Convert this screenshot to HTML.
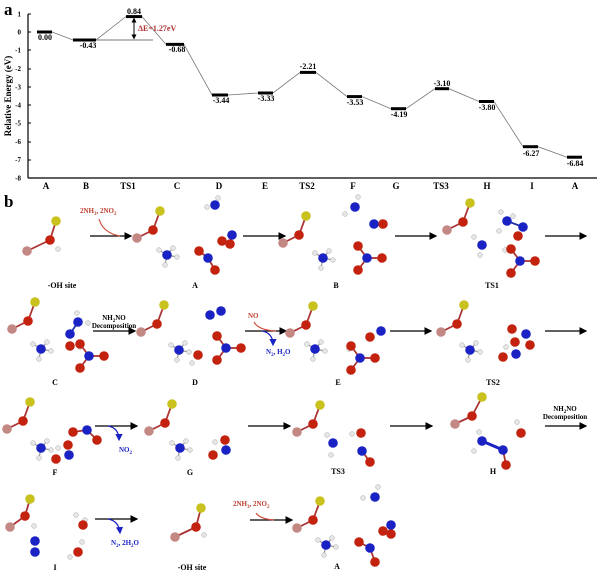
<!DOCTYPE html>
<html><head><meta charset="utf-8"><style>
html,body{margin:0;padding:0;background:#fff}
svg{display:block}
text{font-family:"Liberation Serif",serif;font-weight:bold}
.y{fill:#c9c21e}.o{fill:#c2220e}.p{fill:#c48884}.n{fill:#1a22c4}.h{fill:#e6e6e6;stroke:#aaa;stroke-width:.5}
circle.y,circle.o,circle.p,circle.n{r:4.8px}
circle.h{r:2.4px}
.b{stroke:#a33;stroke-width:1.8}
.bn{stroke:#2233aa;stroke-width:1.8}
.bw{stroke:#999;stroke-width:1.2}
.lv{stroke:#000;stroke-width:3}
.ln{stroke:#777;stroke-width:.8;fill:none}
.v{font-size:9px;text-anchor:middle}
.ax{font-size:9px;text-anchor:middle}
.lab{font-size:8px;text-anchor:middle}
</style></head><body>
<svg width="600" height="578" viewBox="0 0 600 578" xmlns="http://www.w3.org/2000/svg">
<defs>
<marker id="ah" markerWidth="6" markerHeight="6" refX="5" refY="3" orient="auto"><path d="M0,0 L6,3 L0,6 z" fill="#000"/></marker>
<marker id="ab" markerWidth="6" markerHeight="6" refX="5" refY="3" orient="auto"><path d="M0,0 L6,3 L0,6 z" fill="#1a22c4"/></marker>
<marker id="ak" markerWidth="5" markerHeight="5" refX="2.5" refY="2.5" orient="auto"><path d="M0,0 L5,2.5 L0,5 z" fill="#000"/></marker>
<g id="cat"><line class="b" x1="0" y1="0" x2="-7" y2="19"/><line class="b" x1="-7" y1="19" x2="-23" y2="27"/><circle class="y" r="5"/><circle class="o" cx="-7" cy="19" r="5"/><circle class="p" cx="-23" cy="27" r="5"/></g>
<g id="nh4"><line class="bw" x1="0" y1="0" x2="-8" y2="-5"/><line class="bw" x1="0" y1="0" x2="6" y2="-7"/><line class="bw" x1="0" y1="0" x2="10" y2="2"/><line class="bw" x1="0" y1="0" x2="-2" y2="10"/><circle class="h" cx="-8" cy="-5" r="3"/><circle class="h" cx="6" cy="-7" r="3"/><circle class="n" r="5"/><circle class="h" cx="10" cy="2" r="3"/><circle class="h" cx="-2" cy="10" r="3"/></g>
<g id="hno3"><line class="b" x1="0" y1="0" x2="-9" y2="-12"/><line class="b" x1="0" y1="0" x2="15" y2="0"/><line class="b" x1="0" y1="0" x2="-9" y2="12"/><circle class="o" cx="-9" cy="-12" r="5"/><circle class="o" cx="15" cy="0" r="5"/><circle class="o" cx="-9" cy="12" r="5"/><circle class="n" r="5"/></g>
</defs>

<!-- Panel a -->
<text x="4" y="15" style="font-size:17px">a</text>
<line x1="28" y1="14" x2="28" y2="178" stroke="#000" stroke-width="1.2"/>
<line x1="28" y1="178" x2="597" y2="178" stroke="#000" stroke-width="1.2"/>
<g font-size="7" text-anchor="end">
<text x="21" y="16.5">1</text><text x="21" y="34.5">0</text><text x="21" y="52.5">-1</text><text x="21" y="71">-2</text><text x="21" y="89.5">-3</text><text x="21" y="107.5">-4</text><text x="21" y="125.5">-5</text><text x="21" y="144">-6</text><text x="21" y="162">-7</text><text x="21" y="180.5">-8</text>
</g>
<g stroke="#000" stroke-width="1"><line x1="28" y1="14" x2="31" y2="14"/><line x1="28" y1="32" x2="31" y2="32"/><line x1="28" y1="50" x2="31" y2="50"/><line x1="28" y1="69" x2="31" y2="69"/><line x1="28" y1="87" x2="31" y2="87"/><line x1="28" y1="105" x2="31" y2="105"/><line x1="28" y1="123" x2="31" y2="123"/><line x1="28" y1="142" x2="31" y2="142"/><line x1="28" y1="160" x2="31" y2="160"/></g>
<text transform="translate(11,96) rotate(-90)" style="font-size:9px" text-anchor="middle">Relative Energy (eV)</text>
<g class="ax">
<text x="46" y="189">A</text><text x="86" y="189">B</text><text x="128" y="189">TS1</text><text x="177" y="189">C</text><text x="219" y="189">D</text><text x="265" y="189">E</text><text x="307" y="189">TS2</text><text x="353" y="189">F</text><text x="396" y="189">G</text><text x="441" y="189">TS3</text><text x="487" y="189">H</text><text x="532" y="189">I</text><text x="575" y="189">A</text>
</g>
<polyline class="ln" points="52,32 73,40 96,40 126,16.6 142,16.6 166,44.4 184,44.4 212,95 228,95 258,93 273,93 300,72.4 316,72.4 347,96.6 362,96.6 391,108.7 406,108.7 435,88.7 449,88.7 479,101.5 494,101.5 523,146.7 538,146.7 567,157.2 582,157.2"/>
<line x1="96" y1="40" x2="153" y2="40" stroke="#777" stroke-width="1"/>
<g class="lv">
<line x1="37" y1="32" x2="52" y2="32"/><line x1="73" y1="40" x2="96" y2="40"/><line x1="126" y1="16.6" x2="142" y2="16.6"/><line x1="166" y1="44.4" x2="184" y2="44.4"/><line x1="212" y1="95" x2="228" y2="95"/><line x1="258" y1="93" x2="273" y2="93"/><line x1="300" y1="72.4" x2="316" y2="72.4"/><line x1="347" y1="96.6" x2="362" y2="96.6"/><line x1="391" y1="108.7" x2="406" y2="108.7"/><line x1="435" y1="88.7" x2="449" y2="88.7"/><line x1="479" y1="101.5" x2="494" y2="101.5"/><line x1="523" y1="146.7" x2="538" y2="146.7"/><line x1="567" y1="157.2" x2="582" y2="157.2"/>
</g>
<line x1="134" y1="24" x2="134" y2="20" stroke="#000" stroke-width="1" marker-end="url(#ak)"/>
<line x1="134" y1="24" x2="134" y2="37" stroke="#000" stroke-width="1" marker-end="url(#ak)"/>
<text x="138" y="31" style="font-size:8px;fill:#b03030">ΔE=1.27eV</text>
<g class="v" style="font-size:8px">
<text x="45" y="40">0.00</text><text x="88" y="48">-0.43</text><text x="134" y="14">0.84</text><text x="177" y="52">-0.68</text><text x="221" y="103">-3.44</text><text x="266" y="101">-3.33</text><text x="308" y="69">-2.21</text><text x="355" y="105">-3.53</text><text x="399" y="117">-4.19</text><text x="442" y="86">-3.10</text><text x="487" y="110">-3.80</text><text x="531" y="156">-6.27</text><text x="575" y="166">-6.84</text>
</g>

<!-- Panel b -->
<text x="4" y="207" style="font-size:17px">b</text>
<g class="lab">
<text x="62" y="288">-OH site</text><text x="195" y="288">A</text><text x="336" y="288">B</text><text x="492" y="288">TS1</text>
<text x="55" y="385">C</text><text x="195" y="385">D</text><text x="338" y="385">E</text><text x="493" y="385">TS2</text>
<text x="55" y="475">F</text><text x="190" y="475">G</text><text x="338" y="474">TS3</text><text x="493" y="474">H</text>
<text x="55" y="570">I</text><text x="192" y="570">-OH site</text><text x="337" y="569">A</text>
</g>
<!-- arrows -->
<g stroke="#000" stroke-width="1.3" marker-end="url(#ah)">
<line x1="90" y1="236" x2="131" y2="236"/><line x1="243" y1="236" x2="285" y2="236"/><line x1="395" y1="236" x2="436" y2="236"/><line x1="545" y1="236" x2="586" y2="236"/>
<line x1="93" y1="331" x2="135" y2="331"/><line x1="245" y1="331" x2="286" y2="331"/><line x1="390" y1="331" x2="431" y2="331"/><line x1="545" y1="331" x2="586" y2="331"/>
<line x1="95" y1="426" x2="137" y2="426"/><line x1="248" y1="426" x2="290" y2="426"/><line x1="390" y1="426" x2="432" y2="426"/><line x1="545" y1="426" x2="586" y2="426"/>
<line x1="95" y1="519" x2="137" y2="519"/><line x1="250" y1="520" x2="292" y2="520"/>
</g>
<g fill="none" stroke="#d05040" stroke-width="1.2">
<path d="M99,219 Q103,233 120,236"/><path d="M254,322 Q258,330 276,331"/><path d="M256,513 Q260,519 274,520"/>
</g>
<g fill="none" stroke="#1a22c4" stroke-width="1.2" marker-end="url(#ab)">
<path d="M262,331 Q273,333 273,345"/><path d="M108,426 Q119,428 119,440"/><path d="M108,519 Q119,521 120,533"/>
</g>
<g style="font-size:7px">
<text x="80" y="213" fill="#c04030">2NH<tspan font-size="5" dy="2">3</tspan><tspan dy="-2">, 2NO</tspan><tspan font-size="5" dy="2">2</tspan></text>
<text x="233" y="506" fill="#c04030">2NH<tspan font-size="5" dy="2">3</tspan><tspan dy="-2">, 2NO</tspan><tspan font-size="5" dy="2">2</tspan></text>
<text x="114" y="320" text-anchor="middle">NH<tspan font-size="5" dy="2">2</tspan><tspan dy="-2">NO</tspan></text>
<text x="114" y="328" text-anchor="middle">Decomposition</text>
<text x="565" y="411" text-anchor="middle">NH<tspan font-size="5" dy="2">2</tspan><tspan dy="-2">NO</tspan></text>
<text x="565" y="419" text-anchor="middle">Decomposition</text>
<text x="248" y="318" fill="#c04030">NO</text>
<text x="266" y="354" fill="#1a22c4">N<tspan font-size="5" dy="2">2</tspan><tspan dy="-2">, H</tspan><tspan font-size="5" dy="2">2</tspan><tspan dy="-2">O</tspan></text>
<text x="119" y="452" fill="#1a22c4">NO<tspan font-size="5" dy="2">2</tspan></text>
<text x="111" y="545" fill="#1a22c4">N<tspan font-size="5" dy="2">2</tspan><tspan dy="-2">, 2H</tspan><tspan font-size="5" dy="2">2</tspan><tspan dy="-2">O</tspan></text>
</g>

<!-- Row 1 -->
<g><line class="b" x1="56" y1="221" x2="50" y2="240"/><line class="b" x1="50" y1="240" x2="27" y2="251"/><circle class="y" cx="56" cy="221" r="5"/><circle class="o" cx="50" cy="240" r="5"/><circle class="p" cx="27" cy="251" r="5"/><circle class="h" cx="58" cy="249" r="3"/></g>
<use href="#cat" x="160" y="211"/>
<g><circle class="h" cx="207" cy="207" r="3"/><circle class="h" cx="218" cy="198" r="3"/><circle class="n" cx="215" cy="205" r="5"/></g>
<use href="#nh4" x="167" y="255"/>
<g><circle class="o" cx="222" cy="241" r="5"/><circle class="o" cx="230" cy="244" r="5"/><circle class="n" cx="232" cy="235" r="5"/></g>
<g><line class="b" x1="199" y1="251" x2="208" y2="258"/><line class="b" x1="208" y1="258" x2="215" y2="270"/><circle class="o" cx="199" cy="251" r="5"/><circle class="n" cx="208" cy="258" r="5"/><circle class="o" cx="215" cy="270" r="5"/></g>

<use href="#cat" x="306" y="216"/>
<g><circle class="h" cx="345" cy="214" r="3"/><circle class="h" cx="358" cy="197" r="3"/><circle class="n" cx="355" cy="207" r="5"/></g>
<g><circle class="o" cx="383" cy="224" r="5"/><circle class="n" cx="374" cy="224" r="5"/></g>
<use href="#nh4" x="323" y="258"/>
<use href="#hno3" x="367" y="258"/>

<use href="#cat" x="470" y="203"/>
<g><line class="bn" x1="507" y1="221" x2="523" y2="227"/><circle class="h" cx="501" cy="212" r="3"/><circle class="h" cx="513" cy="216" r="3"/><circle class="h" cx="499" cy="231" r="3"/><circle class="n" cx="507" cy="221" r="5"/><circle class="o" cx="518" cy="236" r="5"/><circle class="n" cx="523" cy="227" r="5"/></g>
<g><circle class="h" cx="474" cy="237" r="3"/><circle class="h" cx="480" cy="255" r="3"/><circle class="n" cx="482" cy="245" r="5"/></g>
<circle class="h" cx="505" cy="250" r="3"/>
<use href="#hno3" x="520" y="261"/>

<!-- Row 2 -->
<use href="#cat" x="35" y="302"/>
<use href="#nh4" x="41" y="349"/>
<g><line class="bn" x1="78" y1="322" x2="70" y2="334"/><circle class="h" cx="77" cy="313" r="3"/><circle class="h" cx="88" cy="323" r="3"/><circle class="n" cx="78" cy="322" r="5"/><circle class="n" cx="70" cy="334" r="5"/><circle class="o" cx="70" cy="346" r="5"/></g>
<circle class="h" cx="80" cy="347" r="3"/>
<use href="#hno3" x="89" y="356"/>

<use href="#cat" x="164" y="305"/>
<g><circle class="n" cx="210" cy="315" r="5"/><circle class="n" cx="221" cy="311" r="5"/></g>
<use href="#nh4" x="179" y="350"/>
<circle class="h" cx="218" cy="334" r="3"/>
<use href="#hno3" x="226" y="348"/>
<g><circle class="h" cx="192" cy="363" r="3"/><circle class="o" cx="198" cy="355" r="5"/></g>

<use href="#cat" x="313" y="306"/>
<use href="#nh4" x="315" y="349"/>
<g><circle class="o" cx="370" cy="337" r="5"/><circle class="n" cx="381" cy="331" r="5"/></g>
<circle class="h" cx="349" cy="349" r="3"/>
<use href="#hno3" x="360" y="358"/>

<use href="#cat" x="464" y="305"/>
<use href="#nh4" x="470" y="350"/>
<g><circle class="o" cx="512" cy="329" r="5"/><circle class="n" cx="526" cy="334" r="5"/><circle class="o" cx="530" cy="345" r="5"/><circle class="o" cx="515" cy="342" r="5"/><circle class="h" cx="506" cy="347" r="3"/><circle class="n" cx="516" cy="354" r="5"/><circle class="o" cx="503" cy="357" r="5"/></g>

<!-- Row 3 -->
<use href="#cat" x="30" y="402"/>
<use href="#nh4" x="41" y="448"/>
<g><line class="b" x1="73" y1="432" x2="87" y2="430"/><line class="b" x1="87" y1="430" x2="97" y2="440"/><circle class="o" cx="73" cy="432" r="5"/><circle class="n" cx="87" cy="430" r="5"/><circle class="o" cx="97" cy="440" r="5"/></g>
<g><circle class="h" cx="58" cy="448" r="3"/><circle class="o" cx="68" cy="445" r="5"/><circle class="n" cx="69" cy="455" r="5"/><circle class="o" cx="56" cy="459" r="5"/></g>

<use href="#cat" x="172" y="404"/>
<use href="#nh4" x="180" y="448"/>
<g><circle class="h" cx="215" cy="442" r="3"/><circle class="o" cx="225" cy="440" r="5"/><circle class="n" cx="226" cy="450" r="5"/><circle class="o" cx="213" cy="455" r="5"/></g>

<use href="#cat" x="320" y="405"/>
<g><circle class="h" cx="327" cy="435" r="3"/><circle class="h" cx="331" cy="455" r="3"/><circle class="n" cx="333" cy="443" r="5"/></g>
<g><circle class="h" cx="352" cy="434" r="3"/><circle class="o" cx="361" cy="433" r="5"/></g>
<g><line class="b" x1="362" y1="451" x2="370" y2="462"/><circle class="n" cx="362" cy="451" r="5"/><circle class="o" cx="370" cy="462" r="5"/></g>

<g><line class="b" x1="482" y1="397" x2="472" y2="416"/><line class="b" x1="472" y1="416" x2="455" y2="424"/><circle class="y" cx="482" cy="397" r="5"/><circle class="o" cx="472" cy="416" r="5"/><circle class="p" cx="455" cy="424" r="5"/></g>
<g><line x1="482" y1="441" x2="503" y2="450" stroke="#1a22c4" stroke-width="3"/><line class="b" x1="503" y1="450" x2="506" y2="465"/><circle class="h" cx="479" cy="432" r="3"/><circle class="h" cx="474" cy="451" r="3"/><circle class="n" cx="482" cy="441" r="5"/><circle class="n" cx="503" cy="450" r="5"/><circle class="o" cx="506" cy="465" r="5"/></g>
<g><circle class="h" cx="517" cy="422" r="3"/><circle class="o" cx="521" cy="433" r="5"/></g>

<!-- Row 4 -->
<g><line class="b" x1="30" y1="499" x2="25" y2="516"/><line class="b" x1="25" y1="516" x2="10" y2="527"/><circle class="y" cx="30" cy="499" r="5"/><circle class="o" cx="25" cy="516" r="5"/><circle class="p" cx="10" cy="527" r="5"/><circle class="h" cx="34" cy="526" r="3"/></g>
<g><circle class="n" cx="35" cy="541" r="5"/><circle class="n" cx="35" cy="552" r="5"/></g>
<g><circle class="h" cx="76" cy="515" r="3"/><circle class="h" cx="85" cy="520" r="3"/><circle class="o" cx="83" cy="525" r="5"/></g>
<g><circle class="h" cx="82" cy="542" r="3"/><circle class="h" cx="70" cy="557" r="3"/><circle class="o" cx="78" cy="552" r="5"/></g>

<g><line class="b" x1="201" y1="508" x2="196" y2="527"/><line class="b" x1="196" y1="527" x2="175" y2="537"/><circle class="y" cx="201" cy="508" r="5"/><circle class="o" cx="196" cy="527" r="5"/><circle class="p" cx="175" cy="537" r="5"/><circle class="h" cx="204" cy="535" r="3"/></g>

<use href="#cat" x="320" y="501"/>
<g><circle class="h" cx="363" cy="498" r="3"/><circle class="h" cx="378" cy="487" r="3"/><circle class="n" cx="375" cy="497" r="5"/></g>
<use href="#nh4" x="326" y="545"/>
<g><circle class="o" cx="383" cy="531" r="5"/><circle class="o" cx="391" cy="534" r="5"/><circle class="n" cx="391" cy="525" r="5"/></g>
<g><line class="b" x1="359" y1="542" x2="370" y2="548"/><line class="b" x1="370" y1="548" x2="375" y2="562"/><circle class="o" cx="359" cy="542" r="5"/><circle class="n" cx="370" cy="548" r="5"/><circle class="o" cx="375" cy="562" r="5"/></g>
</svg>
</body></html>
